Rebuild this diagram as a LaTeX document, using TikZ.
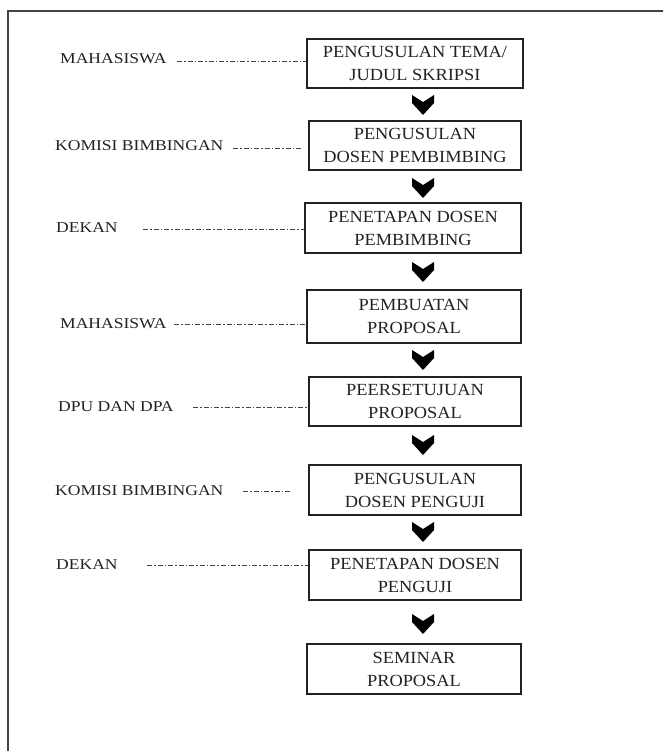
\documentclass[tikz,border=0pt]{standalone}
\usepackage{fontspec}
\setmainfont{Liberation Serif}
\newfontfamily\boxfont[FakeStretch=1.08]{Liberation Serif}
\newfontfamily\lblfont[FakeStretch=1.17]{Liberation Serif}
\definecolor{ink}{HTML}{222222}
\definecolor{frame}{HTML}{444444}
\tikzset{
  stepbox/.style={draw=ink, line width=1.1pt, minimum width=214pt, minimum height=50pt,
    align=center, inner sep=0pt, font=\boxfont\fontsize{17}{23}\selectfont, text=ink},
  lbl/.style={anchor=base west, inner sep=0pt, font=\lblfont\fontsize{15}{17}\selectfont, text=ink},
  dd/.style={draw=ink!85, line width=0.8pt, dash pattern=on 5pt off 2pt on 1.5pt off 2pt},
  chev/.style={fill=black}
}
\newcommand{\chevat}[2]{\fill[chev] (#1,#2) ++(-11,0) -- ++(11,7) -- ++(11,-7) -- ++(0,8) -- ++(-11,12) -- ++(-11,-12) -- cycle;}
\begin{document}
\begin{tikzpicture}[x=1pt,y=-1pt]
\useasboundingbox (0,0) rectangle (663,751);
\clip (0,0) rectangle (663,751);
\fill[white] (0,0) rectangle (663,751);
% frame (clipped at right and bottom)
\draw[frame, line width=2pt] (8,760) -- (8,11) -- (680,11);

% boxes
\node[stepbox, minimum width=216pt, minimum height=49pt] (b1) at (415,63.5) {PENGUSULAN TEMA/\\JUDUL SKRIPSI};
\node[stepbox, minimum width=212pt, minimum height=49pt] (b2) at (415,145.5) {PENGUSULAN\\DOSEN PEMBIMBING};
\node[stepbox, minimum width=216pt, minimum height=50pt] (b3) at (413,228) {PENETAPAN DOSEN\\PEMBIMBING};
\node[stepbox, minimum width=214pt, minimum height=53pt] (b4) at (414,316.5) {PEMBUATAN\\PROPOSAL};
\node[stepbox, minimum width=212pt, minimum height=49pt] (b5) at (415,401.5) {PEERSETUJUAN\\PROPOSAL};
\node[stepbox, minimum width=212pt, minimum height=50pt] (b6) at (415,490) {PENGUSULAN\\DOSEN PENGUJI};
\node[stepbox, minimum width=212pt, minimum height=50pt] (b7) at (415,575) {PENETAPAN DOSEN\\PENGUJI};
\node[stepbox, minimum width=214pt, minimum height=50pt] (b8) at (414,669) {SEMINAR\\PROPOSAL};

% labels
\node[lbl] (l1) at (60,64) {MAHASISWA};
\node[lbl] (l2) at (55,151) {KOMISI BIMBINGAN};
\node[lbl] (l3) at (56,233) {DEKAN};
\node[lbl] (l4) at (60,328) {MAHASISWA};
\node[lbl] (l5) at (58,411) {DPU DAN DPA};
\node[lbl] (l6) at (55,495) {KOMISI BIMBINGAN};
\node[lbl] (l7) at (56,569) {DEKAN};

% connector ends
\coordinate (s1) at (177,61);
\coordinate (s2) at (233,148);
\coordinate (e2) at (302,148);
\coordinate (s3) at (143,229);
\coordinate (s4) at (174,324);
\coordinate (s5) at (193,407);
\coordinate (s6) at (243,491);
\coordinate (e6) at (292,491);
\coordinate (s7) at (147,565);

\draw[dd] (s1) -- (s1 -| b1.west);
\draw[dd] (s2) -- (e2);
\draw[dd] (s3) -- (s3 -| b3.west);
\draw[dd] (s4) -- (s4 -| b4.west);
\draw[dd] (s5) -- (s5 -| b5.west);
\draw[dd] (s6) -- (e6);
\draw[dd] (s7) -- (s7 -| b7.west);

% chevrons
\chevat{423}{95}
\chevat{423}{178}
\chevat{423}{262}
\chevat{423}{350}
\chevat{423}{435}
\chevat{423}{522}
\chevat{423}{614}
\end{tikzpicture}
\end{document}
